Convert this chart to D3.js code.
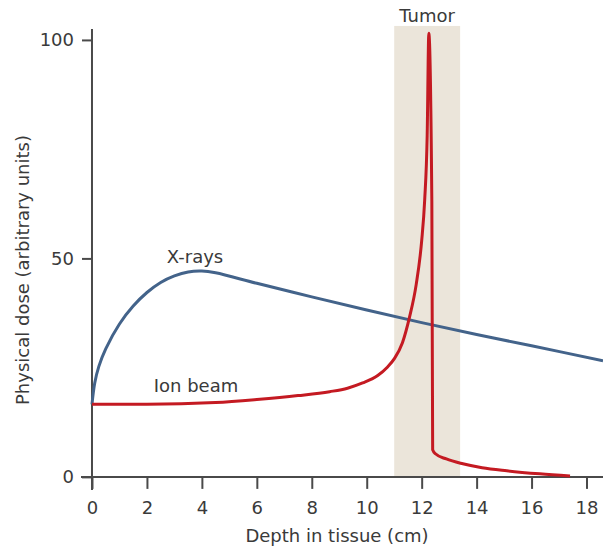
<!doctype html>
<html>
<head>
    <style>
        body { margin: 0; background: #fff; }
        svg text { font-family: "DejaVu Sans", sans-serif; fill: #3a3a3a; }
        .axis path, .axis line { stroke: #4a4a4a; stroke-width: 2; }
        .axis text { font-size: 18px; }
    </style>
    <script src="https://d3js.org/d3.v7.min.js"></script>
</head>
<body>
    <svg width="603" height="549"></svg>
    <script>
        // data: [depth (cm), dose]
        var xrays = [[0, 16.6], [0.1, 21.5], [0.25, 25.3], [0.5, 29.3], [1, 35], [1.5, 39.1],
                     [2, 42.2], [2.5, 44.5], [3, 46], [3.5, 46.9], [4, 47.1], [4.5, 46.7],
                     [6, 44.3], [8, 41.2], [10, 38.2], [12, 35.3], [14, 32.6], [16, 30], [18.6, 26.6]];
        var ionBeam = [[0, 16.6], [2, 16.6], [4.5, 17], [6, 17.7], [7.5, 18.6], [8.65, 19.5],
                       [9.3, 20.3], [9.85, 21.5], [10.4, 23.2], [10.75, 25.1], [11, 27], [11.3, 30.7],
                       [11.56, 36.6], [11.8, 44], [12, 54], [12.11, 63.4], [12.2, 78], [12.26, 101.5],
                       [12.37, 63], [12.4, 6.2], [12.5, 5.3], [12.9, 4.1], [13.5, 3], [14.2, 2.1],
                       [15.1, 1.4], [16.3, 0.7], [17.4, 0.2]];
        var tumorRange = [11, 13.4];
        var xTicks = [0, 2, 4, 6, 8, 10, 12, 14, 16, 18];
        var yTicks = [0, 50, 100];

        var svg = d3.select("svg");

        var x = d3.scaleLinear().domain([-0.4, 18.6]).range([81, 603]);
        var y = d3.scaleLinear().domain([-3, 102.5]).range([490, 29]);

        // tumor band
        svg.append("rect")
           .attr("x", x(tumorRange[0]))
           .attr("width", x(tumorRange[1]) - x(tumorRange[0]))
           .attr("y", y(103.2))
           .attr("height", y(0) - y(103.2))
           .attr("fill", "#ebe5da");

        svg.append("text")
           .attr("x", (x(tumorRange[0]) + x(tumorRange[1])) / 2)
           .attr("y", 22)
           .attr("text-anchor", "middle")
           .attr("font-size", "18px")
           .text("Tumor");

        // axes
        svg.append("g")
           .attr("class", "axis")
           .attr("transform", "translate(0," + y(0) + ")")
           .call(d3.axisBottom(x).tickValues(xTicks).tickSize(12).tickSizeOuter(0).tickPadding(12.5))
           .call(function(g) { g.select(".domain").attr("d", "M81,0H603"); });

        svg.append("g")
           .attr("class", "axis")
           .attr("transform", "translate(" + x(0) + ",0)")
           .call(d3.axisLeft(y).tickValues(yTicks).tickSize(10).tickSizeOuter(0).tickPadding(8))
           .call(function(g) { g.select(".domain").attr("d", "M0,29V490"); });

        var xrayLine = d3.line()
            .x(function(d) { return x(d[0]); })
            .y(function(d) { return y(d[1]); })
            .curve(d3.curveCatmullRom);

        var ionLine = d3.line()
            .x(function(d) { return x(d[0]); })
            .y(function(d) { return y(d[1]); })
            .curve(d3.curveMonotoneX);

        svg.append("path")
           .datum(xrays)
           .attr("d", xrayLine)
           .attr("fill", "none")
           .attr("stroke", "#43638a")
           .attr("stroke-width", 3);

        svg.append("path")
           .datum(ionBeam)
           .attr("d", ionLine)
           .attr("fill", "none")
           .attr("stroke", "#c41a22")
           .attr("stroke-width", 3);

        // labels
        svg.append("text")
           .attr("x", 195).attr("y", 263)
           .attr("text-anchor", "middle")
           .attr("font-size", "18px")
           .text("X-rays");

        svg.append("text")
           .attr("x", 196).attr("y", 392)
           .attr("text-anchor", "middle")
           .attr("font-size", "18px")
           .text("Ion beam");

        svg.append("text")
           .attr("x", 337).attr("y", 542)
           .attr("text-anchor", "middle")
           .attr("font-size", "18px")
           .text("Depth in tissue (cm)");

        svg.append("text")
           .attr("transform", "translate(29,270) rotate(-90)")
           .attr("text-anchor", "middle")
           .attr("font-size", "18px")
           .text("Physical dose (arbitrary units)");
    </script>
</body>
</html>
